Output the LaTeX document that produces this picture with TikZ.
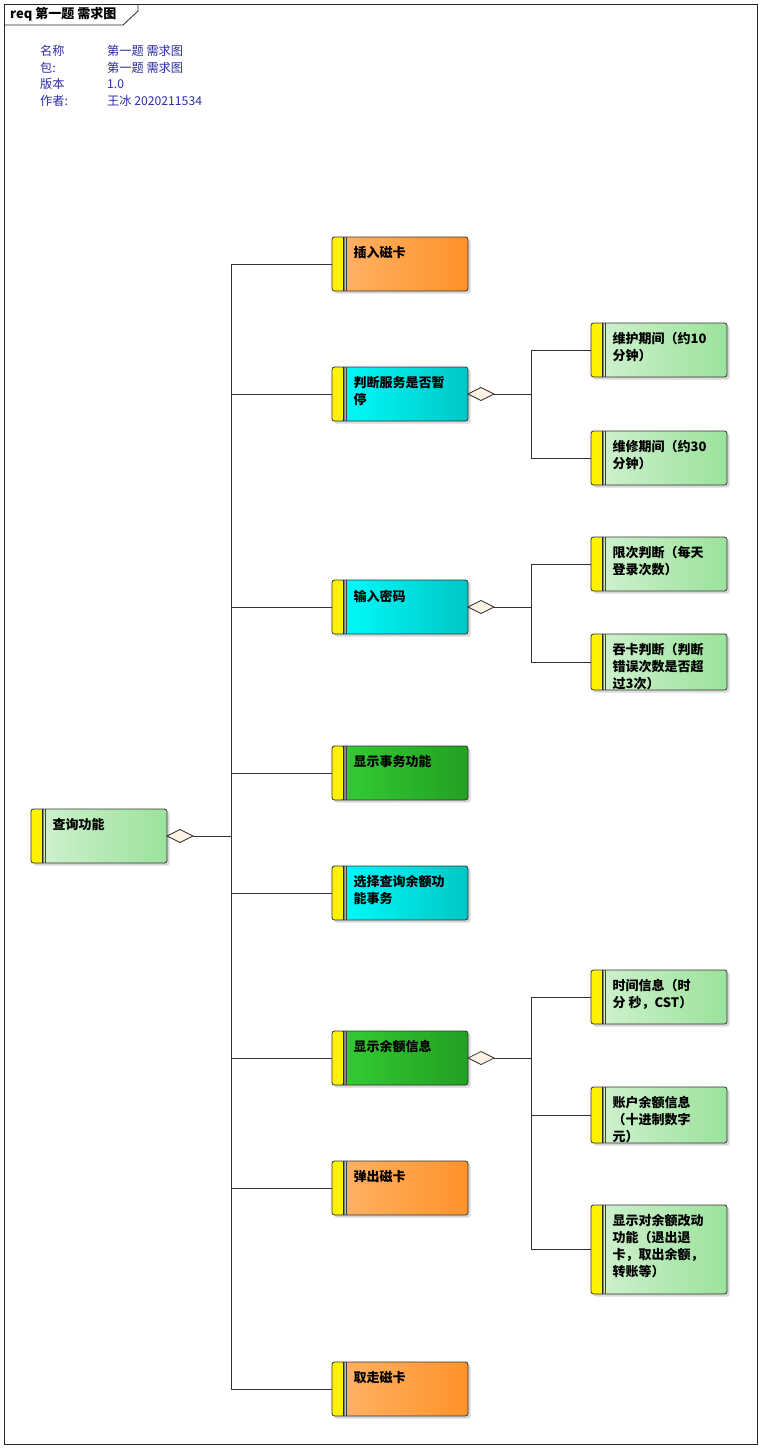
\documentclass[tikz,border=0pt]{standalone}
\usepackage{fontspec}
\setmainfont{Noto Sans CJK SC}
\usetikzlibrary{shapes.geometric,shadows}
\definecolor{meta}{HTML}{2B2BA6}
\definecolor{orL}{HTML}{FFB468}
\definecolor{orR}{HTML}{FF922A}
\definecolor{cyL}{HTML}{00FFFF}
\definecolor{cyR}{HTML}{00C6C6}
\definecolor{gnL}{HTML}{35CF35}
\definecolor{gnR}{HTML}{22A022}
\definecolor{lgL}{HTML}{D2F2D2}
\definecolor{lgR}{HTML}{9BE29B}
\definecolor{diafill}{HTML}{FDF2E4}
\tikzset{
  reqbox/.style={draw=black!80, line width=0.8pt, rounded corners=2.5pt,
    minimum width=136pt, minimum height=54pt, inner sep=0pt, outer sep=0pt, anchor=north west,
    drop shadow={shadow xshift=2.5pt, shadow yshift=-2.5pt, fill=black!30, opacity=0.5},
    path picture={
      \fill[yellow] (path picture bounding box.north west) rectangle ([xshift=11pt]path picture bounding box.south west);
      \draw[black!85, line width=0.8pt] ([xshift=11pt]path picture bounding box.north west) -- ([xshift=11pt]path picture bounding box.south west);
      \draw[gray, line width=1.4pt] ([xshift=12.6pt]path picture bounding box.north west) -- ([xshift=12.6pt]path picture bounding box.south west);
      \draw[black!75, line width=0.6pt] ([xshift=14pt]path picture bounding box.north west) -- ([xshift=14pt]path picture bounding box.south west);
    }},
  orangebox/.style={reqbox, left color=orL, right color=orR},
  cyanbox/.style={reqbox, left color=cyL, right color=cyR},
  greenbox/.style={reqbox, left color=gnL, right color=gnR},
  lightbox/.style={reqbox, left color=lgL, right color=lgR},
  lbl/.style={anchor=north west, xshift=21.5pt, yshift=-9.5pt, inner sep=0pt, align=left,
    font=\fontsize{13}{17}\selectfont\bfseries},
  agg/.style={draw=black!85, line width=0.7pt, fill=diafill, diamond, inner sep=0pt, outer sep=0pt,
    minimum width=26pt, minimum height=13pt, anchor=west},
  link/.style={draw=black!80, line width=0.8pt},
  metatext/.style={anchor=west, inner sep=0pt, text=meta, font=\fontsize{12.2}{14}\selectfont}
}
\begin{document}
\begin{tikzpicture}[x=1pt,y=-1pt]
\useasboundingbox[fill=white] (0,0) rectangle (761,1449);

% diagram frame and its tab
\draw[line width=0.8pt, black!85] (4,4) rectangle (757,1444);
\draw[line width=0.8pt, black!85] (4,25) -- (123,25) -- (138,11) -- (138,4);
\node[anchor=west, inner sep=0pt, font=\fontsize{13}{15}\selectfont\bfseries] (title) at (10,14.5) {req 第一题 需求图};

% diagram properties
\node[metatext] (k1) at (40,51) {名称};
\node[metatext] (k2) at (40,67.5) {包:};
\node[metatext] (k3) at (40,84) {版本};
\node[metatext] (k4) at (40,100.5) {作者:};
\node[metatext] (v1) at (107,51) {第一题 需求图};
\node[metatext] (v2) at (107,67.5) {第一题 需求图};
\node[metatext] (v3) at (107,84) {1.0};
\node[metatext] (v4) at (107,100.5) {王冰 2020211534};

% root requirement
\node[lightbox, label={[lbl]north west:查询功能}] (root) at (31,809) {};

% first level
\node[orangebox, label={[lbl]north west:插入磁卡}] (a1) at (332,237) {};
\node[cyanbox, label={[lbl]north west:判断服务是否暂\\停}] (a2) at (332,367) {};
\node[cyanbox, label={[lbl]north west:输入密码}] (a3) at (332,580) {};
\node[greenbox, label={[lbl]north west:显示事务功能}] (a4) at (332,746) {};
\node[cyanbox, label={[lbl]north west:选择查询余额功\\能事务}] (a5) at (332,866) {};
\node[greenbox, label={[lbl]north west:显示余额信息}] (a6) at (332,1031) {};
\node[orangebox, label={[lbl]north west:弹出磁卡}] (a7) at (332,1161) {};
\node[orangebox, label={[lbl]north west:取走磁卡}] (a8) at (332,1362) {};

% second level
\node[lightbox, label={[lbl]north west:维护期间（约10\\分钟）}] (b1) at (591,323) {};
\node[lightbox, label={[lbl]north west:维修期间（约30\\分钟）}] (b2) at (591,431) {};
\node[lightbox, label={[lbl]north west:限次判断（每天\\登录次数）}] (c1) at (591,537) {};
\node[lightbox, minimum height=56pt, label={[lbl]north west:吞卡判断（判断\\错误次数是否超\\过3次）}] (c2) at (591,634) {};
\node[lightbox, label={[lbl]north west:时间信息（时\\分 秒，CST）}] (d1) at (591,970) {};
\node[lightbox, minimum height=56pt, label={[lbl]north west:账户余额信息\\（十进制数字\\元）}] (d2) at (591,1087) {};
\node[lightbox, minimum height=89pt, label={[lbl]north west:显示对余额改动\\功能（退出退\\卡，取出余额，\\转账等）}] (d3) at (591,1205) {};

% aggregation diamonds
\node[agg] (g0) at (root.east) {};
\node[agg] (g2) at (a2.east) {};
\node[agg] (g3) at (a3.east) {};
\node[agg] (g6) at (a6.east) {};

% bus columns and junctions
\coordinate (busA) at (231,0);
\coordinate (busB) at (531,0);
\coordinate (j0) at (g0.east -| busA);
\coordinate (j2) at (g2.east -| busB);
\coordinate (j3) at (g3.east -| busB);
\coordinate (j6) at (g6.east -| busB);

% connectors
\path[link] (g0.east) -- (j0);
\foreach \t in {a1,a2,a3,a4,a5,a6,a7,a8} \path[link] (j0) |- (\t.west);
\path[link] (g2.east) -- (j2);
\foreach \t in {b1,b2} \path[link] (j2) |- (\t.west);
\path[link] (g3.east) -- (j3);
\foreach \t in {c1,c2} \path[link] (j3) |- (\t.west);
\path[link] (g6.east) -- (j6);
\foreach \t in {d1,d2,d3} \path[link] (j6) |- (\t.west);
\end{tikzpicture}
\end{document}
